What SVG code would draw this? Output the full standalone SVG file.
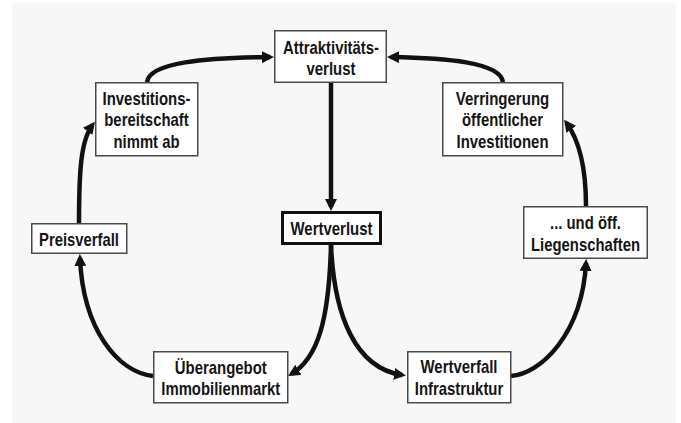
<svg xmlns="http://www.w3.org/2000/svg" width="681" height="423" viewBox="0 0 681 423">
<defs>
<style>
.box{fill:#ffffff;stroke:#4a4a4a;stroke-width:1.5}
.main{fill:#ffffff;stroke:#111111;stroke-width:3}
.t{font-family:"Liberation Sans",Arial,sans-serif;font-weight:bold;font-size:19px;fill:#151515;text-anchor:middle}
.c{fill:none;stroke:#111111;stroke-width:4.5;marker-end:url(#ah)}
</style>
<marker id="ah" markerUnits="userSpaceOnUse" markerWidth="12" markerHeight="12" refX="8" refY="6" orient="auto">
<path d="M0,0 L12,6 L0,12 z" fill="#111111"/>
</marker>
</defs>
<rect x="12" y="3" width="664" height="420" fill="#f7f7f7"/>
<g id="connectors">
<path class="c" d="M331,82 L331,207"/>
<path class="c" d="M331,245 C329,320 318,358 291.5,374"/>
<path class="c" d="M331,245 C334,315 355,368 402,375"/>
<path class="c" d="M153,376 C118,372 83,330 80,258"/>
<path class="c" d="M79,223 C79,170 81,140 92.5,125"/>
<path class="c" d="M147,82 C150,62 205,58 270,57"/>
<path class="c" d="M503,82 C500,62 445,58 391,57"/>
<path class="c" d="M586,206 C586,165 579,140 566.5,123"/>
<path class="c" d="M511,376 C540,374 582,335 586,263"/>
</g>
<g id="attraktivitaetsverlust">
<rect class="box" x="274.75" y="30.75" width="111.5" height="51.5"/>
<text class="t" x="331" y="54.3" textLength="96" lengthAdjust="spacingAndGlyphs">Attraktivitäts-</text>
<text class="t" x="331" y="74.8" textLength="49" lengthAdjust="spacingAndGlyphs">verlust</text>
</g>
<g id="investitionsbereitschaft">
<rect class="box" x="95.75" y="82.75" width="102" height="73"/>
<text class="t" x="146.5" y="105" textLength="88" lengthAdjust="spacingAndGlyphs">Investitions-</text>
<text class="t" x="146.5" y="126.3" textLength="84.5" lengthAdjust="spacingAndGlyphs">bereitschaft</text>
<text class="t" x="146.5" y="147.5" textLength="66" lengthAdjust="spacingAndGlyphs">nimmt ab</text>
</g>
<g id="verringerung">
<rect class="box" x="442.75" y="82.75" width="120" height="73"/>
<text class="t" x="502.5" y="105" textLength="93.5" lengthAdjust="spacingAndGlyphs">Verringerung</text>
<text class="t" x="502.5" y="126.3" textLength="81" lengthAdjust="spacingAndGlyphs">öffentlicher</text>
<text class="t" x="502.5" y="147.5" textLength="92" lengthAdjust="spacingAndGlyphs">Investitionen</text>
</g>
<g id="preisverfall">
<rect class="box" x="31.75" y="223.75" width="95" height="29.5"/>
<text class="t" x="79" y="245.7" textLength="80" lengthAdjust="spacingAndGlyphs">Preisverfall</text>
</g>
<g id="wertverlust">
<rect class="main" x="282.5" y="212.5" width="98" height="31"/>
<text class="t" x="331.5" y="235" textLength="82" lengthAdjust="spacingAndGlyphs">Wertverlust</text>
</g>
<g id="liegenschaften">
<rect class="box" x="523.75" y="206.75" width="123.5" height="51.5"/>
<text class="t" x="585.5" y="229" textLength="71" lengthAdjust="spacingAndGlyphs">... und öff.</text>
<text class="t" x="585.5" y="250.5" textLength="109" lengthAdjust="spacingAndGlyphs">Liegenschaften</text>
</g>
<g id="ueberangebot">
<rect class="box" x="153.75" y="351.75" width="134" height="51"/>
<text class="t" x="220.8" y="373.5" textLength="92" lengthAdjust="spacingAndGlyphs">Überangebot</text>
<text class="t" x="220.8" y="395.3" textLength="119" lengthAdjust="spacingAndGlyphs">Immobilienmarkt</text>
</g>
<g id="wertverfall">
<rect class="box" x="407.75" y="351.75" width="103" height="51"/>
<text class="t" x="459" y="373.3" textLength="77" lengthAdjust="spacingAndGlyphs">Wertverfall</text>
<text class="t" x="459" y="395" textLength="88.5" lengthAdjust="spacingAndGlyphs">Infrastruktur</text>
</g>
</svg>
